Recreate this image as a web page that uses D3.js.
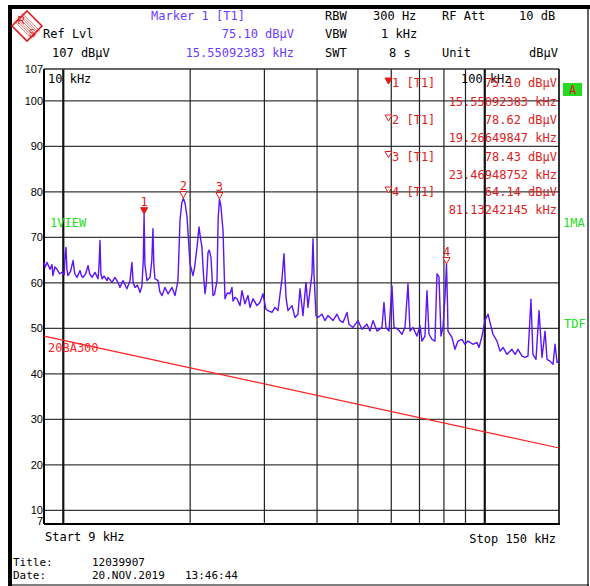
<!DOCTYPE html>
<html><head><meta charset="utf-8">
<script src="https://cdn.jsdelivr.net/npm/d3@7/dist/d3.min.js"></script>
<style>body{margin:0;background:#fff}</style>
</head><body>
<svg id="c" width="590" height="586"></svg>
<script>
// ---- data ----
const traceFreq = [9.00,9.05,9.15,9.30,9.40,9.45,9.55,9.66,9.80,9.93,10.05,10.10,10.15,10.20,10.26,10.40,10.55,10.65,10.78,10.96,11.05,11.14,11.30,11.45,11.55,11.70,11.89,12.09,12.16,12.22,12.28,12.36,12.50,12.70,12.77,13.05,13.26,13.48,13.63,13.86,14.16,14.40,14.55,14.65,14.80,15.00,15.21,15.37,15.48,15.55,15.62,15.80,16.06,16.22,16.32,16.40,16.50,16.78,16.95,17.15,17.43,17.72,18.11,18.41,18.71,18.92,19.10,19.27,19.45,19.66,19.98,20.31,20.50,20.76,20.99,21.15,21.33,21.50,21.69,21.85,22.05,22.20,22.41,22.66,22.85,23.16,23.30,23.47,23.65,23.93,24.19,24.50,24.86,25.13,25.27,25.55,25.83,26.26,26.54,26.98,27.43,27.73,28.19,28.81,29.29,29.77,30.26,30.60,31.27,31.79,32.31,33.03,33.39,33.76,34.13,34.88,35.46,36.04,36.44,37.04,37.65,38.07,38.91,39.12,39.34,39.77,40.20,41.09,41.77,42.46,43.64,44.60,45.34,46.09,47.11,47.62,48.68,50.02,51.13,52.54,53.41,54.30,55.49,57.03,57.66,58.29,59.25,60.23,60.90,62.24,63.62,64.67,65.74,66.46,67.56,69.05,70.19,70.96,72.13,72.93,73.73,74.94,76.18,77.02,77.87,78.72,79.59,80.60,81.13,81.60,81.79,83.60,84.98,86.38,88.29,89.75,91.23,93.76,95.83,96.89,98.49,100.1,101.8,102.9,104.6,106.9,108.7,110.5,112.9,116.0,118.0,119.9,122.6,124.6,126.6,128.7,130.1,132.3,134.5,136.7,139.0,140.5,142.8,145.2,146.8,148.4,150.0];
const traceLevel = [64.5,63.4,64.5,63.0,64.0,61.6,63.5,63.0,62.0,62.3,61.8,66.0,67.8,63.0,61.6,62.5,64.9,62.0,61.2,62.7,61.5,61.2,62.0,63.8,62.0,61.2,62.3,60.9,64.0,69.3,62.0,60.9,61.5,60.5,61.2,60.1,61.2,60.1,59.0,60.5,58.7,60.5,64.5,60.0,59.0,59.5,57.9,59.4,65.0,75.1,64.0,60.5,61.2,65.0,71.9,64.0,60.9,60.5,58.0,57.2,59.0,57.6,59.0,57.2,60.5,73.7,77.5,78.6,77.5,74.5,64.2,61.6,63.5,67.8,72.3,70.0,67.8,62.0,57.6,60.0,66.7,67.2,65.6,57.2,57.5,60.5,74.0,78.4,77.0,71.5,56.5,57.8,57.6,59.0,56.0,56.8,56.5,55.0,58.3,55.4,57.2,54.6,56.5,55.0,55.7,57.6,54.2,53.9,53.5,54.6,53.9,60.9,66.4,56.8,53.9,55.0,52.4,53.1,58.7,52.8,60.1,54.6,62.0,69.7,62.0,52.8,52.4,53.1,51.7,52.8,51.7,53.1,51.7,51.3,53.5,50.9,50.2,51.7,49.8,50.9,49.4,51.7,49.4,50.2,55.7,50.2,49.4,59.4,50.2,49.8,48.7,50.2,59.8,49.4,50.2,48.3,50.6,47.2,48.3,58.3,48.7,47.6,47.2,62.0,61.3,48.3,50.2,58.0,64.1,55.0,49.4,48.0,45.4,47.2,47.6,46.5,47.2,46.5,46.9,45.8,48.3,51.7,53.1,51.3,48.7,47.2,45.0,45.8,44.3,45.4,44.3,45.4,43.9,43.6,43.9,56.4,44.3,43.2,53.9,43.6,49.4,43.2,42.8,42.1,46.5,42.5,42.8];
const limitFreq = [9, 150];
const limitLevel = [48.3, 23.7];
const limitName = "20BA300";
const markerNames = ["1", "2", "3", "4"];
const markerFreq = [15.55092383, 19.26649847, 23.46948752, 81.13242145];
const markerLevel = [75.10, 78.62, 78.43, 64.14];
const yTicks = [107, 100, 90, 80, 70, 60, 50, 40, 30, 20, 10, 7];
const yGrid = [100, 90, 80, 70, 60, 50, 40, 30, 20, 10];
const xGrid = [20, 30, 40, 50, 60, 70, 80, 90];
const xMajor = [10, 100];
const startFreq = 9, stopFreq = 150, refLevel = 107, bottomLevel = 7;

// ---- drawing ----
const svg = d3.select("#c");
const mono = "DejaVu Sans Mono, monospace";
const sans = "Liberation Sans, Arial, sans-serif";
const purple = "#6a3cff", red = "#dd1c1c", green = "#22dd22", traceCol = "#5a14f5";

const x = d3.scaleLog().domain([startFreq, stopFreq]).range([44, 559]);
const y = d3.scaleLinear().domain([bottomLevel, refLevel]).range([524, 69]);

// outer frame
svg.append("rect").attr("x", 8).attr("y", 5).attr("width", 582).attr("height", 4).attr("fill", "#000");
svg.append("rect").attr("x", 8).attr("y", 5).attr("width", 4).attr("height", 581).attr("fill", "#000");
svg.append("line").attr("x1", 588).attr("x2", 588).attr("y1", 5).attr("y2", 586).attr("stroke", "#000").attr("stroke-width", 1.2);
svg.append("line").attr("x1", 8).attr("x2", 589).attr("y1", 585).attr("y2", 585).attr("stroke", "#000").attr("stroke-width", 1.2);

// R&S logo
const logo = svg.append("g").attr("transform", "translate(27,26)");
logo.append("path").attr("d", "M0,-15 L15,0 L0,15 L-15,0 Z").attr("fill", "none").attr("stroke", red).attr("stroke-width", 1.6);
for (let i = -3; i <= 3; i++) {
  logo.append("line").attr("x1", -9 + i * 1.3).attr("y1", -9 - i * 1.3).attr("x2", 9 + i * 1.3).attr("y2", 9 - i * 1.3)
    .attr("stroke", red).attr("stroke-width", 0.6);
}
logo.append("text").attr("x", -6).attr("y", -2).attr("text-anchor", "middle").attr("font-family", sans).attr("font-size", 10).attr("fill", red).text("R");
logo.append("text").attr("x", 5).attr("y", 11).attr("text-anchor", "middle").attr("font-family", sans).attr("font-size", 10).attr("fill", red).text("S");

// header text
function txt(t, px, py, col, anchor, font, size) {
  return svg.append("text").attr("x", px).attr("y", py).attr("fill", col || "#000")
    .attr("text-anchor", anchor || "start").attr("font-family", font || mono).attr("font-size", size || 12).text(t);
}
txt("Marker 1 [T1]", 151, 19.5, purple);
txt("Ref Lvl", 43, 38);
txt(markerLevel[0].toFixed(2) + " dBµV", 294, 38, purple, "end");
txt(refLevel + " dBµV", 52, 57);
txt(markerFreq[0].toFixed(8) + " kHz", 294, 57, purple, "end");
txt("RBW", 325, 19.5); txt("300 Hz", 373, 19.5); txt("RF Att", 442, 19.5); txt("10 dB", 519, 19.5);
txt("VBW", 325, 38); txt("1 kHz", 381, 38);
txt("SWT", 325, 57); txt("8 s", 389, 57); txt("Unit", 442, 57); txt("dBµV", 558, 57, "#000", "end");

// grid
const g = svg.append("g");
g.selectAll(".hg").data(yGrid).join("line")
  .attr("x1", x(startFreq)).attr("x2", x(stopFreq)).attr("y1", d => y(d)).attr("y2", d => y(d))
  .attr("stroke", "#3a3a3a").attr("stroke-width", 1.3);
g.selectAll(".vg").data(xGrid).join("line")
  .attr("x1", d => x(d)).attr("x2", d => x(d)).attr("y1", y(refLevel)).attr("y2", y(bottomLevel))
  .attr("stroke", "#222").attr("stroke-width", 1.2);
g.selectAll(".vm").data(xMajor).join("line")
  .attr("x1", d => x(d)).attr("x2", d => x(d)).attr("y1", y(refLevel)).attr("y2", y(bottomLevel))
  .attr("stroke", "#111").attr("stroke-width", 2.2);
// border
g.append("line").attr("x1", x(startFreq)).attr("x2", x(stopFreq)).attr("y1", y(refLevel)).attr("y2", y(refLevel)).attr("stroke", "#333").attr("stroke-width", 1.3);
g.append("line").attr("x1", x(startFreq)).attr("x2", x(stopFreq) + 1).attr("y1", y(bottomLevel)).attr("y2", y(bottomLevel)).attr("stroke", "#000").attr("stroke-width", 2);
g.append("line").attr("x1", x(startFreq)).attr("x2", x(startFreq)).attr("y1", y(refLevel)).attr("y2", y(bottomLevel)).attr("stroke", "#000").attr("stroke-width", 2);
g.append("line").attr("x1", x(stopFreq)).attr("x2", x(stopFreq)).attr("y1", y(refLevel)).attr("y2", y(bottomLevel)).attr("stroke", "#000").attr("stroke-width", 1.6);

// y tick labels
svg.selectAll(".yt").data(yTicks).join("text")
  .attr("x", 43).attr("y", d => d === bottomLevel ? y(d) + 1 : y(d) + 4).attr("text-anchor", "end")
  .attr("font-family", sans).attr("font-size", 11).attr("fill", "#000").text(d => d);

// inner labels
txt("10 kHz", 48, 83, "#000", "start", mono, 12);
txt("100 kHz", 461, 83, "#000", "start", mono, 12);

// limit line
svg.append("path").datum(limitFreq.map((f, i) => [f, limitLevel[i]]))
  .attr("d", d3.line().x(d => x(d[0])).y(d => y(d[1])))
  .attr("fill", "none").attr("stroke", "#ff2020").attr("stroke-width", 1.2);
txt(limitName, 48, 352, "#ff2020");

// trace
svg.append("path").datum(traceFreq.map((f, i) => [f, traceLevel[i]]))
  .attr("d", d3.line().x(d => x(d[0])).y(d => y(d[1])))
  .attr("fill", "none").attr("stroke", traceCol).attr("stroke-width", 1.4).attr("stroke-linejoin", "round");

// markers on trace
markerNames.forEach((n, i) => {
  const mx = x(markerFreq[i]), my = y(markerLevel[i]);
  svg.append("path").attr("d", `M${mx - 3.5},${my - 6.5} L${mx + 3.5},${my - 6.5} L${mx},${my} Z`)
    .attr("fill", i === 0 ? red : "#fff").attr("stroke", red).attr("stroke-width", 1);
  txt(n, mx, my - 8, red, "middle", mono, 12);
});

// marker readout panel
const rowBase = [87, 105.5, 124, 142, 160.5, 178.5, 196, 214];
markerNames.forEach((n, i) => {
  const b1 = rowBase[i * 2], b2 = rowBase[i * 2 + 1];
  svg.append("path").attr("d", `M385,${b1 - 9} L392,${b1 - 9} L388.5,${b1 - 3} Z`)
    .attr("fill", i === 0 ? red : "#fff").attr("stroke", red).attr("stroke-width", 1);
  txt(n + " [T1]", 392, b1, red);
  txt(markerLevel[i].toFixed(2) + " dBµV", 557, b1, red, "end");
  txt(markerFreq[i].toFixed(8) + " kHz", 557, b2, red, "end");
});

// side labels
svg.append("rect").attr("x", 563).attr("y", 83).attr("width", 19).attr("height", 13).attr("fill", green);
txt("A", 572.5, 94, red, "middle", mono, 12);
txt("1VIEW", 50, 226.5, green);
txt("1MA", 563, 226.5, green);
txt("TDF", 564, 327.5, green);

// bottom text
txt("Start " + startFreq + " kHz", 45, 541);
txt("Stop " + stopFreq + " kHz", 556, 542.5, "#000", "end");
txt("Title:", 13, 565.5, "#000", "start", mono, 11);
txt("12039907", 92, 565.5, "#000", "start", mono, 11);
txt("Date:", 13, 578.5, "#000", "start", mono, 11);
txt("20.NOV.2019", 92, 578.5, "#000", "start", mono, 11);
txt("13:46:44", 185, 578.5, "#000", "start", mono, 11);
</script>
</body></html>
